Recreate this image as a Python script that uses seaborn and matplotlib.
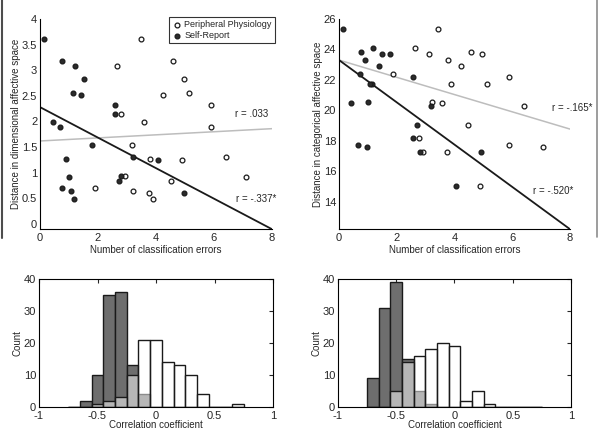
import numpy as np
import pandas as pd
import matplotlib
matplotlib.use('Agg')
import matplotlib.pyplot as plt
import seaborn as sns
from matplotlib.lines import Line2D

# --- scatter data (one entry per subject) ---
# dimensional affective space (left panel)
dim_dist = [3.61, 3.18, 3.09, 2.82, 2.56, 2.52, 2.32, 2.15, 1.99, 1.90, 1.55,
            1.27, 1.31, 1.24, 0.92, 0.93, 0.84, 0.70, 0.64, 0.48, 0.60]
dim_err_self = [0.15, 0.77, 1.22, 1.51, 1.14, 1.42, 2.59, 2.59, 0.46, 0.70, 1.78,
                0.91, 3.20, 4.07, 0.99, 2.81, 2.71, 0.75, 1.06, 1.17, 4.96]
dim_err_phys = [3.48, 4.59, 2.65, 4.96, 5.13, 4.23, 5.90, 2.78, 3.59, 5.90, 3.16,
                3.79, 6.41, 4.90, 7.09, 2.93, 4.51, 1.88, 3.22, 3.89, 3.77]

# categorical affective space (right panel)
cat_dist = [25.34, 24.09, 23.83, 23.72, 23.68, 23.28, 22.93, 22.41, 22.17, 21.75, 21.71,
            20.55, 20.46, 20.26, 19.06, 18.16, 17.72, 17.59, 17.26, 17.24, 15.01]
cat_err_self = [0.13, 1.19, 0.75, 1.77, 1.49, 0.89, 1.40, 0.73, 2.58, 1.15, 1.06,
                1.00, 0.43, 3.18, 2.69, 2.58, 0.67, 0.98, 2.79, 4.93, 4.06]
cat_err_phys = [3.44, 2.63, 4.57, 3.13, 4.94, 3.76, 4.23, 1.87, 5.88, 3.88, 5.12,
                3.21, 3.58, 6.39, 4.48, 2.76, 5.89, 7.08, 2.92, 3.75, 4.88]

# fitted lines: value at 0 and at 8 errors
fit_x = [0, 8]
dim_fit_self = [2.28, -0.10]
dim_fit_phys = [1.62, 1.86]
cat_fit_self = [23.30, 12.20]
cat_fit_phys = [23.30, 18.77]

# --- histograms of correlation coefficients ---
bin_centers = [-0.7, -0.6, -0.5, -0.4, -0.3, -0.2, -0.1, 0.0, 0.1, 0.2, 0.3, 0.4, 0.5, 0.6, 0.7]
dim_hist_self = [0, 2, 10, 35, 36, 13, 4, 0, 0, 0, 0, 0, 0, 0, 0]
dim_hist_phys = [0, 0, 1, 2, 3, 10, 21, 21, 14, 13, 10, 4, 0, 0, 1]
cat_hist_self = [9, 31, 39, 15, 5, 1, 0, 0, 0, 0, 0, 0, 0, 0, 0]
cat_hist_phys = [0, 0, 5, 14, 16, 18, 20, 19, 2, 5, 1, 0, 0, 0, 0]

sns.set_style('white')
plt.rcParams['font.family'] = ['Liberation Sans', 'DejaVu Sans']
plt.rcParams['axes.unicode_minus'] = False
plt.rcParams['xtick.direction'] = 'in'
plt.rcParams['ytick.direction'] = 'in'

fig = plt.figure(figsize=(6, 4.3), dpi=100)
ax1 = fig.add_axes([0.0667, 0.467, 0.3866, 0.489])
ax2 = fig.add_axes([0.565, 0.467, 0.385, 0.489])
ax3 = fig.add_axes([0.065, 0.0535, 0.39, 0.2975])
ax4 = fig.add_axes([0.563, 0.0535, 0.389, 0.2975])

TICK_FS = 8
LAB_FS = 7


def scatter_panel(ax, x_phys, x_self, dist, fit_phys, fit_self, ylim, yticks, ylab):
    ax.set_xlim(0, 8)
    ax.set_ylim(*ylim)
    sns.lineplot(x=fit_x, y=fit_phys, color='#bdbdbd', linewidth=1.1, ax=ax)
    sns.lineplot(x=fit_x, y=fit_self, color='#1a1a1a', linewidth=1.3, ax=ax)
    sns.scatterplot(x=x_phys, y=dist, marker='o', s=12, facecolor='white',
                    edgecolor='#1a1a1a', linewidth=0.9, ax=ax, label='Peripheral Physiology', zorder=3)
    sns.scatterplot(x=x_self, y=dist, marker='o', s=12, color='#2b2b2b',
                    edgecolor='#1a1a1a', linewidth=0.9, ax=ax, label='Self-Report', zorder=3)
    ax.set_xticks([0, 2, 4, 6, 8])
    ax.set_yticks(yticks)
    ax.set_yticklabels(['%g' % v for v in yticks])
    ax.tick_params(labelsize=TICK_FS, length=3, width=0.8, pad=2)
    ax.tick_params(axis='x', pad=3)
    ax.set_xlabel('Number of classification errors', fontsize=LAB_FS, labelpad=1)
    ax.set_ylabel(ylab, fontsize=LAB_FS, labelpad=0.5)
    for s in ['top', 'right']:
        ax.spines[s].set_visible(False)
    for s in ['left', 'bottom']:
        ax.spines[s].set_color('black')
        ax.spines[s].set_linewidth(0.8)


scatter_panel(ax1, dim_err_phys, dim_err_self, dim_dist, dim_fit_phys, dim_fit_self,
              (-0.1, 4), [0, 0.5, 1, 1.5, 2, 2.5, 3, 3.5, 4],
              'Distance in dimensional affective space')
ax1.legend(loc='upper right', bbox_to_anchor=(1.013, 1.01), frameon=True, fancybox=False,
           edgecolor='black', fontsize=6.5, handletextpad=0.2, borderpad=0.35,
           labelspacing=0.25, handlelength=1.2, borderaxespad=0, markerscale=1.0)
ax1.legend_.get_frame().set_linewidth(0.8)
ax1.text(6.72, 2.15, 'r = .033', fontsize=7, va='center')
ax1.text(6.76, 0.49, 'r = -.337*', fontsize=7, va='center')

scatter_panel(ax2, cat_err_phys, cat_err_self, cat_dist, cat_fit_phys, cat_fit_self,
              (12.2, 26), [14, 16, 18, 20, 22, 24, 26],
              'Distance in categorical affective space')
ax2.get_legend().remove()
ax2.text(7.37, 20.18, 'r = -.165*', fontsize=7, va='center')
ax2.text(6.71, 14.68, 'r = -.520*', fontsize=7, va='center')


def hist_panel(ax, self_counts, phys_counts):
    sns.histplot(x=bin_centers, weights=self_counts, binwidth=0.1, binrange=(-0.75, 0.75),
                 facecolor='#6e6e6e', edgecolor='#1a1a1a', linewidth=1.0, ax=ax)
    sns.histplot(x=bin_centers, weights=phys_counts, binwidth=0.1, binrange=(-0.75, 0.75),
                 facecolor=(1, 1, 1, 0.5), edgecolor='#1a1a1a', linewidth=1.0, ax=ax)
    ax.set_xlim(-1, 1)
    ax.set_ylim(0, 40)
    ax.set_xticks([-1, -0.5, 0, 0.5, 1])
    ax.set_xticklabels(['-1', '-0.5', '0', '0.5', '1'])
    ax.set_yticks([0, 10, 20, 30, 40])
    ax.tick_params(labelsize=TICK_FS, length=3, width=0.8, pad=2,
                   top=True, right=True)
    ax.tick_params(axis='x', pad=3)
    ax.set_xlabel('Correlation coefficient', fontsize=LAB_FS, labelpad=-1)
    ax.set_ylabel('Count', fontsize=LAB_FS, labelpad=1)
    for s in ax.spines.values():
        s.set_color('black')
        s.set_linewidth(0.8)


hist_panel(ax3, dim_hist_self, dim_hist_phys)
hist_panel(ax4, cat_hist_self, cat_hist_phys)

# scan border lines at the figure edges
fig.add_artist(Line2D([0.0025, 0.0025], [1.0, 0.447], color='#4d4d4d', linewidth=1.5))
fig.add_artist(Line2D([0.995, 0.995], [1.0, 0.449], color='#8c8c8c', linewidth=1.2))

fig.savefig('out.png', dpi=100)
